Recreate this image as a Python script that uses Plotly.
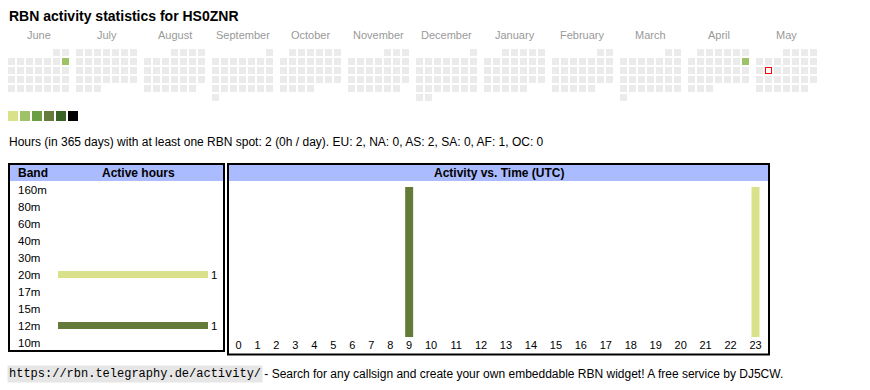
import datetime as dt
import plotly.graph_objects as go

# ---------------- data ----------------
TITLE = "RBN activity statistics for HS0ZNR"
MONTH_NAMES = ["June", "July", "August", "September", "October", "November",
               "December", "January", "February", "March", "April", "May"]
FIRST_MONTH = (2024, 6)
ACTIVE_DAYS = ["2024-06-09", "2025-04-13"]
ACTIVE_LEVELS = [2, 2]
TODAY = "2025-05-13"
LEVEL_COLORS = ["#d9e28a", "#9dc268", "#6a9f45", "#657b3b", "#3a6427", "#000000"]
EMPTY_COLOR = "#ebebeb"

SUMMARY = ("Hours (in 365 days) with at least one RBN spot: 2 (0h / day). "
           "EU: 2, NA: 0, AS: 2, SA: 0, AF: 1, OC: 0")

BANDS = ["160m", "80m", "60m", "40m", "30m", "20m", "17m", "15m", "12m", "10m"]
BAND_HOURS = [0, 0, 0, 0, 0, 1, 0, 0, 1, 0]
BAND_COLORS = {"20m": "#d9e28a", "12m": "#647a39"}

HOUR_LABELS = ["0", "1", "2", "3", "4", "5", "6", "7", "8", "9", "10", "11",
               "12", "13", "14", "15", "16", "17", "18", "19", "20", "21", "22", "23"]
HOUR_ACTIVE = [0, 0, 0, 0, 0, 0, 0, 0, 0, 1, 0, 0, 0, 0, 0, 0, 0, 0, 0, 0, 0, 0, 0, 1]
HOUR_BAND = ["", "", "", "", "", "", "", "", "", "12m", "", "", "", "", "", "", "",
             "", "", "", "", "", "", "20m"]

FOOTER_URL = "https://rbn.telegraphy.de/activity/"
FOOTER_TEXT = " - Search for any callsign and create your own embeddable RBN widget! A free service by DJ5CW."

# ---------------- layout constants (pixels) ----------------
W, H = 870, 390
CAL_X0, CAL_Y0 = 8, 49
MONTH_PITCH, CELL_PITCH, CELL = 68, 9, 7
SANS = "Liberation Sans, Arial, sans-serif"
MONO = "Liberation Mono, Courier New, monospace"
NONE = "rgba(0,0,0,0)"

# ---------------- calendar ----------------
active = dict(zip(ACTIVE_DAYS, ACTIVE_LEVELS))
cx, cy, cc, tx, ty = [], [], [], [], []
month_centers = []
y0, m0 = FIRST_MONTH
for mi in range(len(MONTH_NAMES)):
    yr = y0 + (m0 - 1 + mi) // 12
    mo = (m0 - 1 + mi) % 12 + 1
    d = dt.date(yr, mo, 1)
    off = d.weekday()
    bx = CAL_X0 + mi * MONTH_PITCH
    month_centers.append(bx + 7 * CELL_PITCH / 2 - 1)
    while d.month == mo:
        row, col = divmod(off + d.day - 1, 7)
        x = bx + col * CELL_PITCH + CELL / 2
        y = CAL_Y0 + row * CELL_PITCH + CELL / 2
        key = d.isoformat()
        if key == TODAY:
            tx.append(x); ty.append(y)
        else:
            cx.append(x); cy.append(y)
            cc.append(LEVEL_COLORS[active[key] - 1] if key in active else EMPTY_COLOR)
        d += dt.timedelta(days=1)

fig = go.Figure()
fig.add_trace(go.Scatter(x=cx, y=cy, mode="markers", hoverinfo="skip",
                         marker=dict(symbol="square", size=CELL, color=cc, line=dict(width=0)),
                         xaxis="x", yaxis="y"))
# today's cell: red frame (red square with a white square inside)
fig.add_trace(go.Scatter(x=tx, y=ty, mode="markers", hoverinfo="skip",
                         marker=dict(symbol="square", size=CELL, color="#ff0000", line=dict(width=0)),
                         xaxis="x", yaxis="y"))
fig.add_trace(go.Scatter(x=tx, y=ty, mode="markers", hoverinfo="skip",
                         marker=dict(symbol="square", size=CELL - 2, color="#ffffff", line=dict(width=0)),
                         xaxis="x", yaxis="y"))
# level legend swatches
fig.add_trace(go.Scatter(x=[13 + 12 * i for i in range(len(LEVEL_COLORS))],
                         y=[116] * len(LEVEL_COLORS), mode="markers", hoverinfo="skip",
                         marker=dict(symbol="square", size=10, color=LEVEL_COLORS, line=dict(width=0)),
                         xaxis="x", yaxis="y"))

# ---------------- band bars ----------------
ROW_H = 17
fig.add_trace(go.Bar(x=BAND_HOURS, y=BANDS, orientation="h", width=7 / ROW_H,
                     marker=dict(color=[BAND_COLORS.get(b, NONE) for b in BANDS], line=dict(width=0)),
                     hoverinfo="skip", xaxis="x2", yaxis="y2"))

# ---------------- hour bars ----------------
col_w = [13 + 6 * len(h) for h in HOUR_LABELS]   # table column widths follow label widths
centers, acc = [], 0
for w in col_w:
    centers.append(acc + w / 2)
    acc += w
fig.add_trace(go.Bar(x=centers, y=HOUR_ACTIVE, width=8,
                     marker=dict(color=[BAND_COLORS.get(b, NONE) for b in HOUR_BAND], line=dict(width=0)),
                     hoverinfo="skip", xaxis="x3", yaxis="y3"))

# ---------------- shapes ----------------
shapes = [
    dict(type="rect", x0=10, x1=223, y0=165, y1=181, fillcolor="#aabbff", line_width=0, layer="below"),
    dict(type="rect", x0=229, x1=768, y0=165, y1=181, fillcolor="#aabbff", line_width=0, layer="below"),
    dict(type="rect", x0=9, x1=224, y0=164, y1=351, line=dict(color="black", width=2)),
    dict(type="rect", x0=228, x1=769, y0=164, y1=354.5, line=dict(color="black", width=2)),
]
for s in shapes:
    s.update(xref="x", yref="y")

# ---------------- annotations ----------------
ann = []
def text(x, y, t, size=11, bold=False, color="black", anchor="left", family=SANS, **kw):
    ann.append(dict(x=x, y=y, xref="x", yref="y", text=f"<b>{t}</b>" if bold else t,
                    showarrow=False, xanchor=anchor, yanchor="middle",
                    font=dict(size=size, color=color, family=family), **kw))

text(7, 16, TITLE, size=14, bold=True)
for name, mc in zip(MONTH_NAMES, month_centers):
    text(mc, 35, name, color="#999999", anchor="center")
text(7, 142, SUMMARY, size=12)
text(16, 173, "Band", size=12, bold=True)
text(138, 173, "Active hours", size=12, bold=True, anchor="center")
text(498.5, 173, "Activity vs. Time (UTC)", size=12, bold=True, anchor="center")
for b in BANDS:
    ann.append(dict(x=16 / W, y=b, xref="paper", yref="y2", text=b, showarrow=False,
                    xanchor="left", yanchor="middle", font=dict(size=11.5, color="black", family=SANS)))
for b, v in zip(BANDS, BAND_HOURS):
    if v:
        ann.append(dict(x=v, y=b, xref="x2", yref="y2", text=str(v), showarrow=False,
                        xanchor="left", yanchor="middle", xshift=1,
                        font=dict(size=11.5, color="black", family=SANS)))
text(7, 374, FOOTER_URL, size=12, family=MONO, bgcolor="#e6e6e6")
text(259, 374, FOOTER_TEXT, size=12)

fig.update_layout(
    width=W, height=H, autosize=False,
    margin=dict(l=0, r=0, t=0, b=0, pad=0),
    paper_bgcolor="white", plot_bgcolor="rgba(0,0,0,0)",
    showlegend=False, shapes=shapes, annotations=ann,
    xaxis=dict(domain=[0, 1], range=[0, W], visible=False, fixedrange=True),
    yaxis=dict(domain=[0, 1], range=[H, 0], visible=False, fixedrange=True),
    xaxis2=dict(domain=[58 / W, 208 / W], range=[0, max(BAND_HOURS)], visible=False, anchor="y2"),
    yaxis2=dict(domain=[1 - 351 / H, 1 - 181 / H], type="category", categoryorder="array",
                categoryarray=BANDS, range=[len(BANDS) - 0.5, -0.5], visible=False, anchor="x2"),
    xaxis3=dict(domain=[229 / W, 768 / W], range=[0, acc], anchor="y3",
                tickvals=centers, ticktext=HOUR_LABELS, ticks="", showgrid=False,
                zeroline=False, showline=False,
                tickfont=dict(size=11, color="black", family=SANS)),
    yaxis3=dict(domain=[1 - 337 / H, 1 - 187 / H], range=[0, max(HOUR_ACTIVE)],
                visible=False, anchor="x3"),
)

fig.write_html("out.html", config={"displayModeBar": False, "staticPlot": True},
               post_script="document.body.style.margin='0';document.body.style.overflow='hidden';")
